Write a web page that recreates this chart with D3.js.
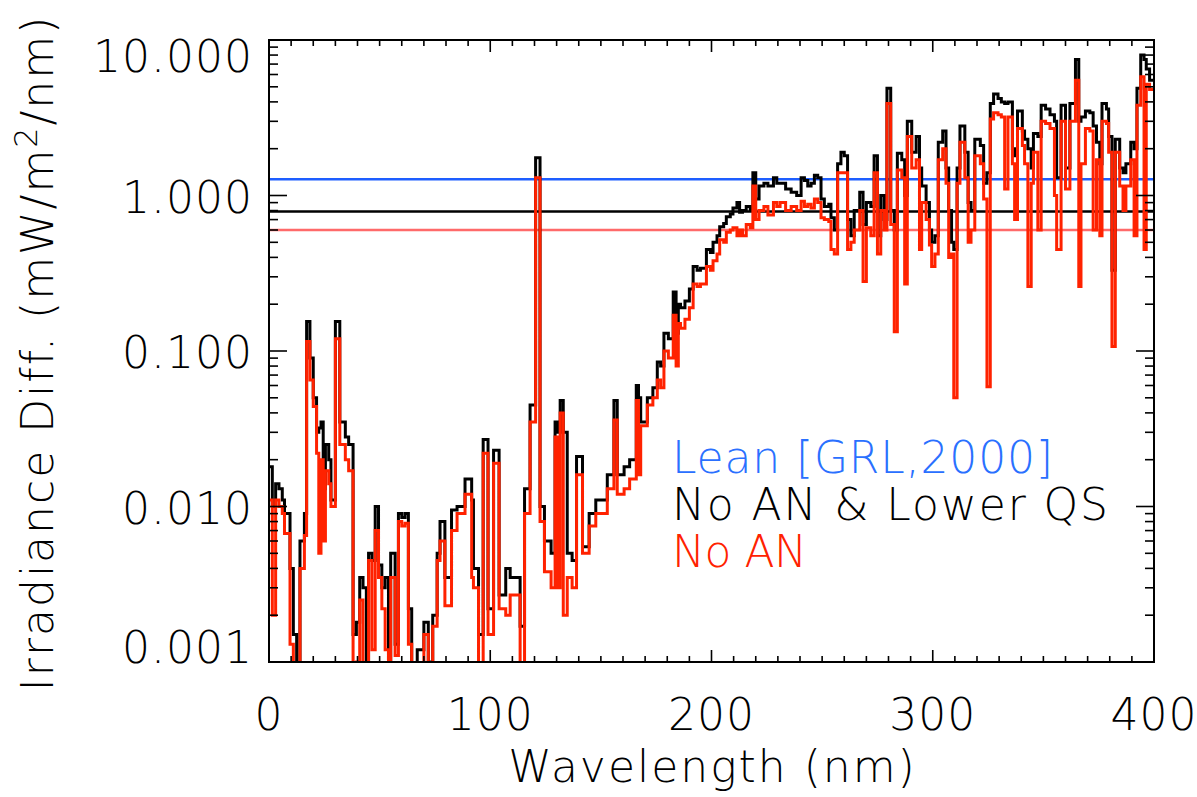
<!DOCTYPE html>
<html>
<head>
<meta charset="utf-8">
<script src="https://cdn.jsdelivr.net/npm/d3@7"></script>
<style>
  html, body { margin: 0; padding: 0; background: #fff; }
  svg { display: block; }
  text { font-family: "DejaVu Sans", sans-serif; font-weight: 200; letter-spacing: 2px; }
  text.ylab, text.xlab { letter-spacing: 1px; }
  text.leg { letter-spacing: 0px; }
</style>
</head>
<body>
<svg id="chart" width="1197" height="797"></svg>
<script>
// ---- data ----
const wavelength = [
  0,1.5,3,4.5,6,7,9.5,11,12.5,14,16,17,18.5,20,21.5,22.5,23.5,24.5,25.5,27,28,30,32,34.5,36,38,39.5,41,42.5,44,
  45,46.5,48,49.5,51,52.5,54,55,57,58.5,60,61.5,63,64.5,67,70,72,74,76,77.3,79.5,82.5,85,88.6,91.6,92.4,94.7,96.8,99,101.5,
  104,107,109,113.5,115.5,118,120.5,122.5,124.5,127.5,129.3,130.5,131.6,133,134.8,137,139,141.7,144.7,147.7,152.9,155.9,157.4,160.5,163,166,167,168,171,173.5,
  175.5,177,178.5,180.5,182.7,184,185,186,188,190,191.7,193.5,195,197.7,199.5,200.7,202.5,203.7,205.5,206.7,208.5,209.7,211.5,
  212.7,214,215.7,217.5,218.7,220,221.5,223.7,225.5,228,229.5,231,233.5,236,238.5,240.5,242,243.5,245,246.5,248,249.5,251,253,254,255.5,257,258.5,260,261.5,
  263,264.5,267,268.5,270,272,273.5,275,276.5,278,279.3,281,282.6,284,286,287.3,288.5,290.5,292.5,294,295,297,298.5,299.5,301,302.5,304.5,306,307.2,308.5,
  309.5,311,312.3,314.5,316,317.3,319,321.5,323,324.5,326,327.5,329.5,331,332.5,334,336,337,338.3,340.5,341.5,343,344.5,345.5,347.5,349,351,353,355,356,
  358,360,362,364.5,366,367,369,371,372.5,374,375.5,376.5,378.5,379.5,381,382.5,384.5,386,387.3,389.5,391,392.3,394,395.5,396.5,398
];
const noANLowerQS = [
  0.018,0.010,0.014,0.013,0.011,0.009,0.004,0.0015,0.0005,0.006,0.009,0.155,0.09,0.05,0.03,0.032,0.035,0.013,0.025,0.02,0.011,0.155,0.035,0.028,0.025,0.0015,0.0018,0.0035,0.003,0.0008,
  0.005,0.0045,0.010,0.0042,0.003,0.0035,0.0008,0.005,0.0013,0.009,0.0085,0.009,0.0022,0.0006,0.0012,0.0018,0.001,0.002,0.005,0.008,0.0035,0.0095,0.010,0.015,0.011,0.004,0.0015,0.027,0.0022,0.023,
  0.0027,0.004,0.0035,0.0017,0.013,0.045,1.75,0.010,0.006,0.005,0.035,0.03,0.048,0.03,0.005,0.0045,0.021,0.0055,0.009,0.011,0.016,0.048,0.016,0.018,0.02,0.06,0.05,0.035,0.05,0.058,
  0.085,0.08,0.13,0.12,0.24,0.13,0.2,0.19,0.21,0.25,0.35,0.33,0.34,0.45,0.43,0.5,0.55,0.63,0.66,0.73,0.76,0.83,0.9,
  0.78,0.8,0.85,0.8,1.4,0.95,1.15,1.2,1.15,1.3,1.2,1.2,1.1,1.05,1.0,1.3,1.25,1.15,1.2,1.35,1.3,0.95,0.85,0.88,0.72,0.6,1.6,1.9,1.8,0.7,
  0.55,0.8,1.05,0.65,0.9,0.85,1.8,0.55,1.0,0.7,4.9,0.8,0.6,1.87,1.7,1.0,3.0,1.9,2.4,1.5,1.15,0.9,0.6,0.5,0.55,2.2,2.6,1.5,0.8,0.5,
  0.45,1.5,2.8,1.9,0.9,0.8,2.3,2.1,1.2,1.4,3.9,4.5,4.2,4.0,3.9,4.0,2.0,1.8,3.5,2.6,2.3,2.0,1.5,2.5,2.4,3.8,3.6,3.3,3.0,1.3,
  3.8,1.5,3.9,7.5,3.0,3.2,3.5,3.4,2.8,2.2,1.6,3.9,3.6,2.4,0.33,2.3,1.5,1.4,1.6,2.2,2.0,4.9,8.0,7.5,6.5,5.5
];
const noAN = [
  0.011,0.002,0.011,0.010,0.009,0.0067,0.0013,0.0009,0.0005,0.004,0.0065,0.115,0.065,0.044,0.022,0.005,0.02,0.006,0.017,0.014,0.010,0.12,0.025,0.02,0.017,0.0008,0.001,0.0025,0.0008,0.0005,
  0.0045,0.0012,0.007,0.0035,0.0022,0.0012,0.0006,0.0035,0.0011,0.008,0.0075,0.0078,0.0013,0.0005,0.0009,0.0015,0.0007,0.0017,0.0045,0.006,0.0023,0.007,0.009,0.012,0.0035,0.003,0.0008,0.022,0.0015,0.019,
  0.0022,0.002,0.0027,0.0008,0.009,0.035,1.3,0.008,0.0038,0.003,0.028,0.003,0.04,0.002,0.0035,0.003,0.016,0.005,0.0075,0.009,0.013,0.036,0.012,0.013,0.015,0.048,0.016,0.033,0.045,0.05,
  0.065,0.058,0.1,0.09,0.17,0.08,0.15,0.14,0.16,0.19,0.27,0.26,0.27,0.35,0.33,0.38,0.42,0.52,0.5,0.58,0.6,0.62,0.55,
  0.6,0.55,0.65,0.62,1.15,0.7,0.8,0.85,0.75,0.9,0.85,0.9,0.8,0.85,0.8,0.92,0.85,0.88,0.83,0.95,0.9,0.72,0.7,0.68,0.45,0.42,1.4,1.4,1.4,0.45,
  0.5,0.6,0.8,0.28,0.62,0.55,1.4,0.42,0.8,0.6,3.9,0.65,0.133,1.46,1.3,0.27,2.4,1.5,1.7,0.45,0.9,0.7,0.48,0.35,0.42,1.7,2.0,1.2,0.4,0.42,
  0.05,1.2,2.2,1.3,0.5,0.6,1.8,1.6,0.95,0.059,3.1,3.4,3.3,3.2,1.1,3.2,1.6,0.7,2.7,2.1,1.6,0.26,1.2,1.9,0.6,3.0,2.9,2.7,1.0,0.45,
  3.0,1.1,3.0,5.5,0.26,1.6,2.7,2.6,0.6,1.7,0.55,3.0,2.9,1.9,0.107,1.9,1.15,0.8,1.15,1.7,0.55,3.8,5.8,0.45,5.2,4.8
];
const lineLevels = [1.27, 0.79, 0.6];             // Lean, No AN & Lower QS, No AN
const legendLabels = ["Lean [GRL,2000]", "No AN & Lower QS", "No AN"];
const yTickValues = [10, 1, 0.1, 0.01, 0.001];
const yTickLabels = ["10.000", "1.000", "0.100", "0.010", "0.001"];
const xTickValues = [0, 100, 200, 300, 400];
const xTickLabels = ["0", "100", "200", "300", "400"];

// ---- layout ----
const L = 269, R = 1154, T = 40, B = 662;
const colBlack = "#000000", colRed = "#ff2200", colBlue = "#1e5eff", colRefRed = "#ff6a6a", colLegendBlue = "#2a70ff";
const FS = 44;

const svg = d3.select("#chart");
const x = d3.scaleLinear().domain([0, 400]).range([L, R]);
const y = d3.scaleLog().domain([0.001, 10]).range([B, T]);

svg.append("defs").append("clipPath").attr("id", "clip")
  .append("rect").attr("x", L).attr("y", T).attr("width", R - L).attr("height", B - T);

const plot = svg.append("g").attr("clip-path", "url(#clip)");

function stepPoints(vals) {
  const pts = wavelength.map((w, i) => [w, vals[i]]);
  pts.push([400, vals[vals.length - 1]]);
  return pts;
}
const line = d3.line().x(d => x(d[0])).y(d => y(d[1])).curve(d3.curveStepAfter);

// reference levels
const levelColors = [colBlue, colBlack, colRefRed];
plot.selectAll("line.level").data(lineLevels).enter().append("line")
  .attr("class", "level")
  .attr("x1", L).attr("x2", R)
  .attr("y1", d => y(d)).attr("y2", d => y(d))
  .attr("stroke", (d, i) => levelColors[i]).attr("stroke-width", 2.5);

plot.append("path").attr("d", line(stepPoints(noANLowerQS)))
  .attr("fill", "none").attr("stroke", colBlack).attr("stroke-width", 3);
plot.append("path").attr("d", line(stepPoints(noAN)))
  .attr("fill", "none").attr("stroke", colRed).attr("stroke-width", 3);

// axes (IDL-style: ticks inward on all four sides)
const axisG = svg.append("g");
const xMajor = 12, xMinor = 6, yMajor = 18, yMinor = 9;
const xMinorVals = d3.range(10, 400, 10).filter(v => v % 100 !== 0);
const yMinorVals = [];
[0.001, 0.01, 0.1, 1].forEach(d => { for (let k = 2; k <= 9; k++) yMinorVals.push(d * k); });

function tick(x1, y1, x2, y2) {
  axisG.append("line").attr("x1", x1).attr("y1", y1).attr("x2", x2).attr("y2", y2)
    .attr("stroke", "#000").attr("stroke-width", 1.6);
}
xTickValues.forEach(v => { tick(x(v), B, x(v), B - xMajor); tick(x(v), T, x(v), T + xMajor); });
xMinorVals.forEach(v => { tick(x(v), B, x(v), B - xMinor); tick(x(v), T, x(v), T + xMinor); });
yTickValues.forEach(v => { tick(L, y(v), L + yMajor, y(v)); tick(R, y(v), R - yMajor, y(v)); });
yMinorVals.forEach(v => { tick(L, y(v), L + yMinor, y(v)); tick(R, y(v), R - yMinor, y(v)); });

axisG.append("rect").attr("x", L).attr("y", T).attr("width", R - L).attr("height", B - T)
  .attr("fill", "none").attr("stroke", "#000").attr("stroke-width", 2);

// tick labels
svg.selectAll("text.ylab").data(yTickValues).enter().append("text")
  .attr("class", "ylab")
  .attr("x", 253)
  .attr("y", d => Math.min(Math.max(y(d) + 17, T + 32), B + 1))
  .attr("text-anchor", "end").attr("font-size", FS).attr("fill", "#000")
  .text((d, i) => yTickLabels[i]);

svg.selectAll("text.xlab").data(xTickValues).enter().append("text")
  .attr("class", "xlab")
  .attr("x", d => x(d)).attr("y", 730)
  .attr("text-anchor", "middle").attr("font-size", FS).attr("fill", "#000")
  .text((d, i) => xTickLabels[i]);

// axis titles
svg.append("text").attr("x", x(200) + 1).attr("y", 782)
  .attr("text-anchor", "middle").attr("font-size", FS).attr("fill", "#000")
  .text("Wavelength (nm)");

const yt = svg.append("text")
  .attr("transform", `translate(53,${(T + B) / 2 + 2}) rotate(-90)`)
  .attr("text-anchor", "middle").attr("font-size", FS).attr("fill", "#000");
yt.append("tspan").text("Irradiance Diff. (mW/m");
yt.append("tspan").attr("font-size", FS * 0.72).attr("dy", -16).text("2");
yt.append("tspan").attr("dy", 16).text("/nm)");

// legend text
const legendColors = [colLegendBlue, colBlack, colRed];
const legendWidths = [381, 436, 135];
svg.selectAll("text.leg").data(legendLabels).enter().append("text")
  .attr("class", "leg")
  .attr("x", 672).attr("y", (d, i) => 473 + i * 47)
  .attr("font-size", FS).attr("fill", (d, i) => legendColors[i])
  .attr("textLength", (d, i) => legendWidths[i]).attr("lengthAdjust", "spacing")
  .text(d => d);
</script>
</body>
</html>
